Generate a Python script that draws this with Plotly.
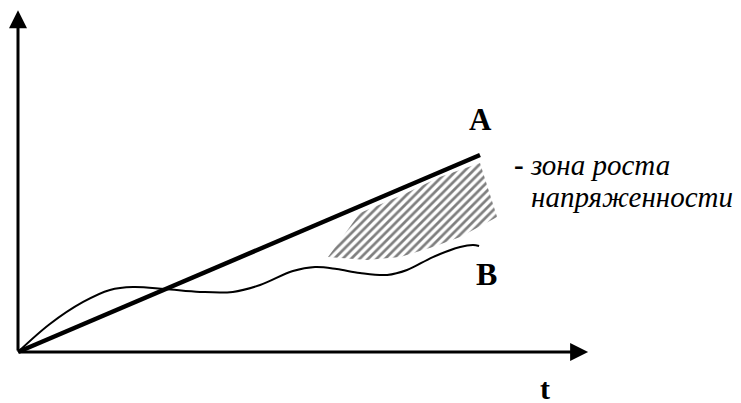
import plotly.graph_objects as go

# line A (straight growth) and curve B (actual)
t_a = [0, 10]
v_a = [0, 10]

t_b = [0, 0.69, 1.41, 1.99, 2.49, 3.18, 3.94, 4.65, 5.24, 5.95, 6.43, 6.90, 7.40, 7.99, 8.42, 8.98, 9.57, 9.85, 9.98]
v_b = [0, 1.42, 2.54, 3.15, 3.30, 3.20, 3.05, 3.05, 3.40, 4.11, 4.31, 4.21, 4.01, 3.91, 4.16, 4.82, 5.33, 5.43, 5.38]

# hatched zone outline
t_zone = [6.71, 7.55, 8.27, 8.98, 9.57, 10.37, 10.0, 9.13, 8.27, 7.40, 6.71]
v_zone = [4.82, 4.67, 4.82, 5.33, 5.84, 6.85, 9.59, 8.88, 7.92, 7.06, 4.82]

fig = go.Figure()

fig.add_trace(go.Scatter(x=t_zone, y=v_zone, mode="none", fill="toself",
                         fillcolor="white",
                         fillpattern=dict(shape="/", size=6, solidity=0.45,
                                          fgcolor="black", bgcolor="white")))
fig.add_trace(go.Scatter(x=t_b, y=v_b, mode="lines",
                         line=dict(color="black", width=2, shape="spline")))
fig.add_trace(go.Scatter(x=t_a, y=v_a, mode="lines",
                         line=dict(color="black", width=4.5)))

# axes with arrows
for tip_x, tip_y in [(0, 17.35), (12.34, 0)]:
    fig.add_annotation(x=tip_x, y=tip_y, ax=0, ay=0, axref="x", ayref="y",
                       showarrow=True, arrowhead=2, arrowsize=1.2, arrowwidth=3,
                       arrowcolor="black", standoff=0, text="")

serif = "Liberation Serif, DejaVu Serif, serif"
fig.add_annotation(x=10.0, y=11.8, text="<b>A</b>", showarrow=False,
                   font=dict(family=serif, size=31, color="black"))
fig.add_annotation(x=10.15, y=3.96, text="<b>B</b>", showarrow=False,
                   font=dict(family=serif, size=32, color="black"))
fig.add_annotation(x=11.41, y=-1.85, text="<b>t</b>", showarrow=False,
                   font=dict(family=serif, size=30, color="black"))
fig.add_annotation(x=10.69, y=9.5, text="<b>-</b> <i>зона роста</i>", showarrow=False,
                   xanchor="left", font=dict(family=serif, size=29, color="black"))
fig.add_annotation(x=11.05, y=7.85, text="<i>напряженности</i>", showarrow=False,
                   xanchor="left", font=dict(family=serif, size=29, color="black"))

# page body adds an 8px offset, so the ranges are shifted to compensate
fig.update_layout(width=741, height=403, margin=dict(l=0, r=0, t=0, b=0),
                  plot_bgcolor="white", paper_bgcolor="white", showlegend=False,
                  xaxis=dict(range=[-0.2165, 15.822], visible=False),
                  yaxis=dict(range=[-2.995, 17.462], visible=False))

fig.write_html("out.html")
